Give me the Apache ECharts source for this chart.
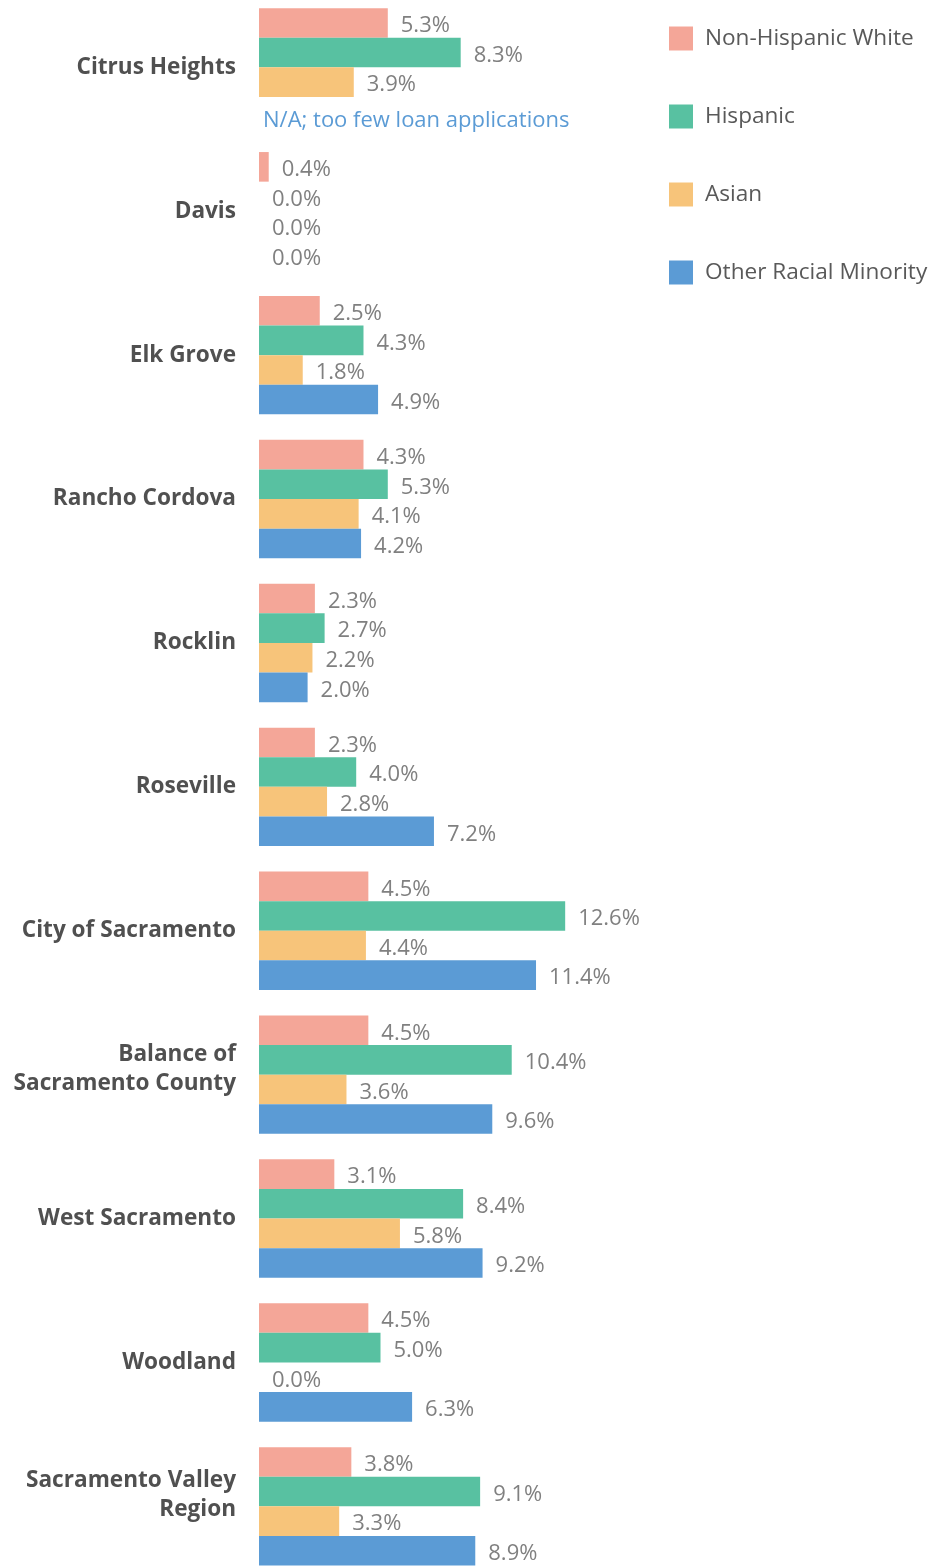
<!DOCTYPE html>
<html>
<head>
<meta charset="utf-8">
<script src="https://cdn.jsdelivr.net/npm/echarts@6/dist/echarts.min.js"></script>
<style>
  html, body { margin: 0; padding: 0; background: #fff; overflow: hidden; }
  /* taller than the window so the bottom band can run past the edge */
  #main { width: 940px; height: 1590px; margin-top: -5px; }
</style>
</head>
<body>
<div id="main"></div>
<script>
var places = ['Citrus Heights', 'Davis', 'Elk Grove', 'Rancho Cordova', 'Rocklin', 'Roseville',
  'City of Sacramento', 'Balance of\nSacramento County', 'West Sacramento', 'Woodland',
  'Sacramento Valley\nRegion'];
var seriesNames = ['Non-Hispanic White', 'Hispanic', 'Asian', 'Other Racial Minority'];
var white    = [5.3, 0.4, 2.5, 4.3, 2.3, 2.3, 4.5, 4.5, 3.1, 4.5, 3.8];
var hispanic = [8.3, 0.0, 4.3, 5.3, 2.7, 4.0, 12.6, 10.4, 8.4, 5.0, 9.1];
var asian    = [3.9, 0.0, 1.8, 4.1, 2.2, 2.8, 4.4, 3.6, 5.8, 0.0, 3.3];
var other    = [null, 0.0, 4.9, 4.2, 2.0, 7.2, 11.4, 9.6, 9.2, 6.3, 8.9];
var naText = 'N/A; too few loan applications';
var colors = ['#F4A698', '#58C1A1', '#F7C47A', '#5B9BD5'];

var myChart = echarts.init(document.getElementById('main'));

function makeSeries(name, values, color) {
  return {
    name: name,
    type: 'bar',
    barWidth: 29.6,
    barGap: '0%',
    itemStyle: { color: color },
    label: {
      show: true,
      position: 'right',
      distance: 13,
      offset: [0, 3],
      color: '#808080',
      fontFamily: 'Open Sans',
      fontSize: 22,
      formatter: function (p) { return p.value.toFixed(1) + '%'; }
    },
    data: values.map(function (v) {
      if (v === null) {
        // no bar, show the note instead
        return {
          value: 0,
          label: { distance: 4, offset: [0, 9], color: '#5B9BD5', formatter: naText }
        };
      }
      return v;
    })
  };
}

myChart.setOption({
  animation: false,
  textStyle: { fontFamily: 'Open Sans' },
  legend: {
    orient: 'vertical',
    left: 669,
    top: 31.5,
    padding: 0,
    itemWidth: 24,
    itemHeight: 24,
    itemGap: 54,
    icon: 'rect',
    data: seriesNames,
    textStyle: {
      color: '#595959',
      fontSize: 22.6,
      fontFamily: 'Open Sans',
      padding: [0, 0, 0, 7]
    }
  },
  grid: {
    left: 259,
    top: 0.4,
    width: 364.5,
    height: 1582.9,
    containLabel: false
  },
  xAxis: {
    type: 'value',
    min: 0,
    max: 15,
    show: false
  },
  yAxis: {
    type: 'category',
    inverse: true,
    data: places,
    axisLine: { show: false },
    axisTick: { show: false },
    axisLabel: {
      margin: 23,
      color: '#505050',
      fontFamily: 'Open Sans',
      fontWeight: 'bold',
      fontSize: 22.6,
      lineHeight: 29,
      align: 'right',
      // two-line names sit a little above the middle of their group
      formatter: function (v, i) {
        if (v.indexOf('\n') < 0) return v;
        return v + '\n{' + (i === places.length - 1 ? 'p22' : 'p12') + '| }';
      },
      rich: {
        p12: { fontSize: 1, height: 12, lineHeight: 12 },
        p22: { fontSize: 1, height: 22, lineHeight: 22 }
      }
    }
  },
  series: [
    makeSeries(seriesNames[0], white, colors[0]),
    makeSeries(seriesNames[1], hispanic, colors[1]),
    makeSeries(seriesNames[2], asian, colors[2]),
    makeSeries(seriesNames[3], other, colors[3])
  ]
});
</script>
</body>
</html>
